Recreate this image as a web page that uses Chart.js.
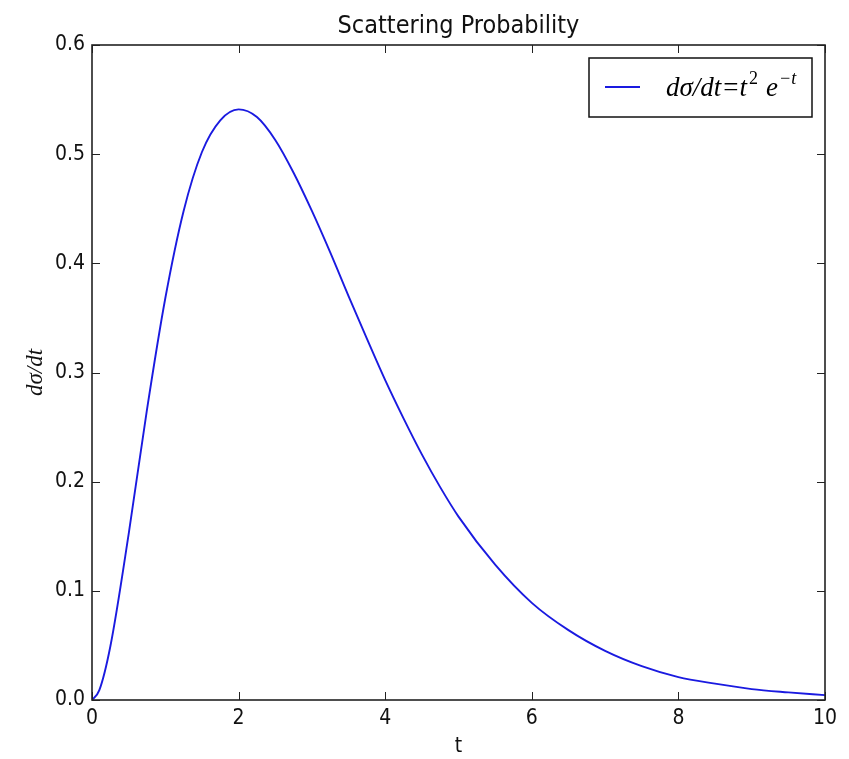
<!DOCTYPE html>
<html>
<head>
<meta charset="utf-8">
<script src="https://cdn.jsdelivr.net/npm/chart.js@4"></script>
<style>
  html, body { margin: 0; padding: 0; background: #fff; }
  #wrap { width: 849px; height: 759px; }
</style>
</head>
<body>
<div id="wrap"><canvas id="chart" width="849" height="759"></canvas></div>
<script>
// values
const tVals = [0, 0.1, 0.25, 0.5, 0.75, 1, 1.25, 1.5, 1.75, 2, 2.25, 2.5, 2.75, 3, 3.25, 3.5, 3.75,
               4, 4.25, 4.5, 4.75, 5, 5.5, 6, 6.5, 7, 7.5, 8, 8.5, 9, 9.5, 10];
const sigmaVals = [0, 0.009, 0.049, 0.152, 0.266, 0.368, 0.448, 0.502, 0.531, 0.541, 0.534, 0.513, 0.483,
                   0.448, 0.410, 0.370, 0.331, 0.293, 0.258, 0.225, 0.195, 0.168, 0.124, 0.089, 0.064,
                   0.045, 0.031, 0.021, 0.015, 0.010, 0.007, 0.0045];
const xTicks = [0, 2, 4, 6, 8, 10];
const yTicks = [0, 0.1, 0.2, 0.3, 0.4, 0.5, 0.6];

const TITLE = 'Scattering Probability';
const LINE_COLOR = '#1a1ae0';
const SANS = "'DejaVu Sans Condensed', 'DejaVu Sans', sans-serif";
const SERIF = "'Liberation Serif', 'DejaVu Serif', serif";

// frame + inward ticks on all four sides (matplotlib classic look), title over the plot area
const framePlugin = {
    id: 'frame',
    afterDraw(chart) {
        const { ctx, chartArea: a, scales } = chart;
        const len = 8;
        ctx.save();
        ctx.strokeStyle = '#222';
        ctx.lineWidth = 1;
        ctx.beginPath();
        xTicks.forEach(v => {
            const px = Math.round(scales.x.getPixelForValue(v)) + 0.5;
            ctx.moveTo(px, a.bottom); ctx.lineTo(px, a.bottom - len);
            ctx.moveTo(px, a.top); ctx.lineTo(px, a.top + len);
        });
        yTicks.forEach(v => {
            const py = Math.round(scales.y.getPixelForValue(v)) + 0.5;
            ctx.moveTo(a.left, py); ctx.lineTo(a.left + len, py);
            ctx.moveTo(a.right, py); ctx.lineTo(a.right - len, py);
        });
        ctx.stroke();
        ctx.lineWidth = 1.6;
        ctx.strokeRect(a.left, a.top, a.right - a.left, a.bottom - a.top);

        ctx.fillStyle = '#111';
        ctx.font = '25px ' + SANS;
        ctx.textAlign = 'center';
        ctx.textBaseline = 'middle';
        ctx.fillText(TITLE, (a.left + a.right) / 2, 26);
        ctx.restore();
    }
};

// legend box in the upper right with the math-style label
const legendPlugin = {
    id: 'mathLegend',
    afterDraw(chart) {
        const { ctx, chartArea: a } = chart;
        const bx = a.right - 236, by = a.top + 13, bw = 223, bh = 59;
        ctx.save();
        ctx.fillStyle = '#fff';
        ctx.fillRect(bx, by, bw, bh);
        ctx.strokeStyle = '#111';
        ctx.lineWidth = 1.5;
        ctx.strokeRect(bx, by, bw, bh);

        const cy = by + 29;
        ctx.strokeStyle = LINE_COLOR;
        ctx.lineWidth = 1.8;
        ctx.beginPath();
        ctx.moveTo(bx + 16, cy); ctx.lineTo(bx + 51, cy);
        ctx.stroke();

        ctx.fillStyle = '#000';
        ctx.textBaseline = 'alphabetic';
        const base = cy + 9;
        let x = bx + 77;
        const put = (txt, font, dy = 0) => {
            ctx.font = font;
            ctx.fillText(txt, x, base + dy);
            x += ctx.measureText(txt).width;
        };
        put('dσ/dt', 'italic 27px ' + SERIF);
        x += 2;
        put('=', '27px ' + SERIF);
        x += 1;
        put('t', 'italic 27px ' + SERIF);
        x += 2;
        put('2', '18px ' + SERIF, -12);
        x += 8;
        put('e', 'italic 27px ' + SERIF);
        x += 1;
        put('−t', 'italic 18px ' + SERIF, -12);
        ctx.restore();
    }
};

new Chart(document.getElementById('chart').getContext('2d'), {
    type: 'line',
    data: {
        datasets: [{
            label: 'dσ/dt=t² e⁻ᵗ',
            data: tVals.map((t, i) => ({ x: t, y: sigmaVals[i] })),
            borderColor: LINE_COLOR,
            borderWidth: 1.9,
            pointRadius: 0,
            fill: false,
            cubicInterpolationMode: 'monotone'
        }]
    },
    options: {
        responsive: false,
        animation: false,
        layout: { padding: { left: 0, right: 24, top: 45, bottom: 0 } },
        plugins: {
            legend: { display: false },
            tooltip: { enabled: false },
            title: { display: false }
        },
        scales: {
            x: {
                type: 'linear',
                min: 0, max: 10,
                afterFit: s => { s.height = 59; },
                afterBuildTicks: s => { s.ticks = xTicks.map(v => ({ value: v })); },
                grid: { display: false, drawTicks: false },
                border: { display: false },
                ticks: { color: '#111', font: { family: SANS, size: 21 }, padding: 6, maxRotation: 0 },
                title: {
                    display: true, text: 't', color: '#111',
                    font: { family: SANS, size: 21 }, padding: { top: 0, bottom: 0 }
                }
            },
            y: {
                min: 0, max: 0.6,
                afterFit: s => { s.width = 92; },
                afterBuildTicks: s => { s.ticks = yTicks.map(v => ({ value: v })); },
                grid: { display: false, drawTicks: false },
                border: { display: false },
                ticks: {
                    color: '#111', font: { family: SANS, size: 21 }, padding: 7,
                    callback: v => v.toFixed(1)
                },
                title: {
                    display: true, text: 'dσ/dt', color: '#111',
                    font: { family: SERIF, size: 23, style: 'italic' }, padding: { top: 22, bottom: 0 }
                }
            }
        }
    },
    plugins: [framePlugin, legendPlugin]
});
</script>
</body>
</html>
